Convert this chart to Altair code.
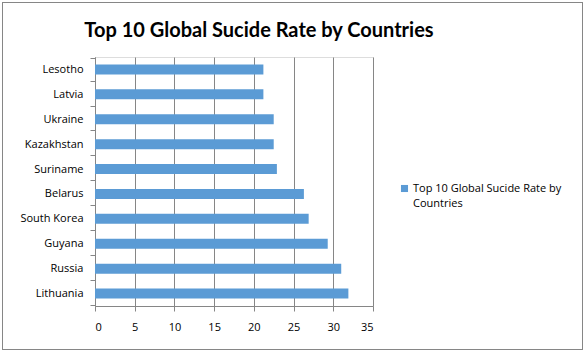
import altair as alt
import pandas as pd

countries = ["Lesotho", "Latvia", "Ukraine", "Kazakhstan", "Suriname",
             "Belarus", "South Korea", "Guyana", "Russia", "Lithuania"]
rates = [21.2, 21.2, 22.5, 22.5, 22.9, 26.3, 26.9, 29.3, 31.0, 31.9]
series_name = "Top 10 Global Sucide Rate by Countries"
x_ticks = [0, 5, 10, 15, 20, 25, 30, 35]

df = pd.DataFrame({"country": countries, "rate": rates, "series": series_name})

GRID = "#868686"
FONT = "Open Sans"
PW, PH = 278, 249
LEFT, TOP = 95, 57

bars = alt.Chart(df).mark_bar(size=10).encode(
    y=alt.Y("country:N", sort=countries, title=None,
            axis=alt.Axis(tickBand="extent", tickSize=5, tickColor=GRID,
                          domainColor=GRID, labelPadding=7, labelFont=FONT,
                          labelFontSize=11, labelColor="#000000", grid=False)),
    x=alt.X("rate:Q", title=None,
            scale=alt.Scale(domain=[0, 35], nice=False),
            axis=alt.Axis(values=x_ticks, tickSize=5, tickColor=GRID,
                          domainColor=GRID, gridColor=GRID, grid=True,
                          labelPadding=10, labelFont=FONT, labelFontSize=11,
                          labelColor="#000000")),
    color=alt.Color("series:N", title=None,
                    scale=alt.Scale(range=["#5B9BD5"]),
                    legend=alt.Legend(orient="none", legendX=304, legendY=126,
                                      symbolType="square", symbolSize=50,
                                      symbolStrokeWidth=0, labelOffset=3,
                                      labelFont=FONT, labelFontSize=11,
                                      labelColor="#000000", labelLimit=300,
                                      labelExpr="['Top 10 Global Sucide Rate by', 'Countries']")),
)

border = alt.Chart(df).mark_rect(fill=None, stroke=GRID, strokeWidth=1).encode(
    x=alt.value(-LEFT + 2.5), x2=alt.value(487.5),
    y=alt.value(-TOP + 2.5), y2=alt.value(292.5),
)

chart = alt.layer(bars, border).properties(
    width=PW, height=PH,
    title=alt.TitleParams(series_name, font="Lato", fontSize=20, fontWeight="bold",
                          color="#000000", anchor="middle", dx=25, offset=-39,
                          frame="group"),
    padding={"left": LEFT, "top": TOP, "right": 586 - LEFT - PW, "bottom": 352 - TOP - PH},
    autosize=alt.AutoSizeParams(type="none"),
).configure_view(stroke=None).configure(
    background="white",
    style={"guide-label": {"lineHeight": 15}},
)

chart.save("out.html", embed_options={"renderer": "svg", "actions": False})
